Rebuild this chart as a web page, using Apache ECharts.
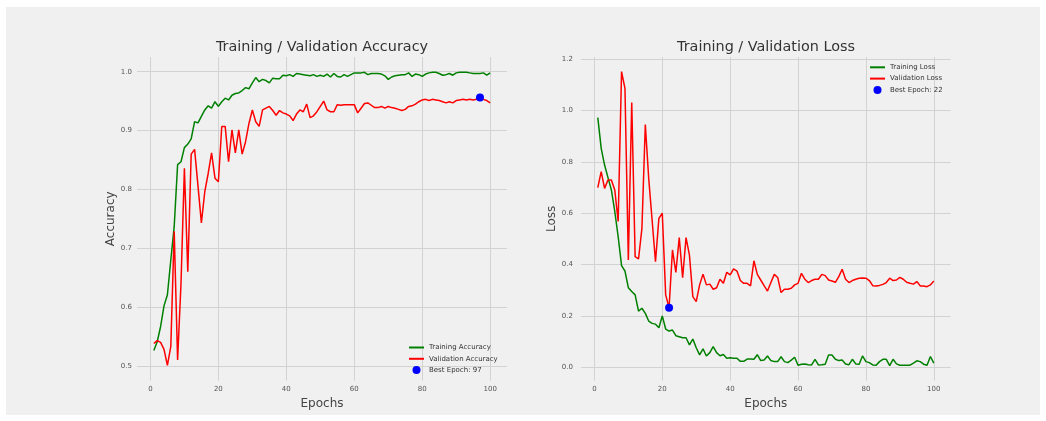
<!DOCTYPE html>
<html>
<head>
<meta charset="utf-8">
<title>Training / Validation</title>
<script src="https://cdn.jsdelivr.net/npm/echarts@6/dist/echarts.min.js"></script>
<style>
html, body { margin: 0; padding: 0; background: #ffffff; }
#main { width: 1046px; height: 421px; }
</style>
</head>
<body>
<div id="main"></div>
<script>
var trainAcc = [
  0.526, 0.541, 0.567, 0.602, 0.621, 0.680, 0.737, 0.842, 0.847, 0.871,
  0.877, 0.886, 0.915, 0.913, 0.924, 0.935, 0.942, 0.938, 0.949, 0.941,
  0.949, 0.955, 0.952, 0.960, 0.963, 0.964, 0.968, 0.973, 0.971, 0.981,
  0.990, 0.983, 0.987, 0.985, 0.981, 0.989, 0.988, 0.988, 0.994, 0.993,
  0.995, 0.992, 0.997, 0.996, 0.995, 0.994, 0.993, 0.995, 0.992, 0.994,
  0.992, 0.996, 0.991, 0.997, 0.992, 0.991, 0.995, 0.992, 0.995, 0.998,
  0.998, 0.998, 0.999, 0.995, 0.997, 0.997, 0.997, 0.996, 0.993, 0.987,
  0.991, 0.993, 0.994, 0.995, 0.995, 0.998, 0.992, 0.996, 0.995, 0.992,
  0.996, 0.998, 0.999, 0.999, 0.997, 0.994, 0.995, 0.997, 0.994, 0.998,
  0.999, 0.999, 0.999, 0.998, 0.997, 0.997, 0.997, 0.998, 0.994, 0.998
];
var valAcc = [
  0.538, 0.543, 0.540, 0.528, 0.501, 0.533, 0.729, 0.510, 0.640, 0.836,
  0.660, 0.860, 0.868, 0.806, 0.743, 0.796, 0.827, 0.862, 0.819, 0.813,
  0.907, 0.907, 0.847, 0.901, 0.862, 0.901, 0.860, 0.881, 0.912, 0.935,
  0.915, 0.907, 0.935, 0.938, 0.941, 0.934, 0.926, 0.934, 0.930, 0.928,
  0.925, 0.917, 0.928, 0.935, 0.932, 0.945, 0.922, 0.925, 0.932, 0.941,
  0.950, 0.935, 0.932, 0.932, 0.944, 0.943, 0.944, 0.944, 0.944, 0.944,
  0.930, 0.938, 0.946, 0.947, 0.943, 0.939, 0.939, 0.941, 0.938, 0.941,
  0.939, 0.938, 0.936, 0.934, 0.936, 0.941, 0.942, 0.945, 0.949, 0.952,
  0.953, 0.951, 0.953, 0.952, 0.951, 0.949, 0.947, 0.949, 0.947, 0.951,
  0.952, 0.953, 0.952, 0.953, 0.952, 0.953, 0.956, 0.953, 0.951, 0.947
];
var trainLoss = [
  0.973, 0.853, 0.788, 0.739, 0.691, 0.607, 0.509, 0.396, 0.375, 0.310,
  0.295, 0.282, 0.219, 0.230, 0.210, 0.180, 0.171, 0.168, 0.154, 0.200,
  0.149, 0.141, 0.145, 0.123, 0.119, 0.115, 0.115, 0.087, 0.110, 0.076,
  0.048, 0.072, 0.044, 0.057, 0.080, 0.057, 0.045, 0.050, 0.035, 0.037,
  0.035, 0.035, 0.023, 0.023, 0.032, 0.032, 0.031, 0.049, 0.026, 0.028,
  0.044, 0.026, 0.022, 0.022, 0.041, 0.022, 0.018, 0.028, 0.039, 0.008,
  0.012, 0.013, 0.010, 0.009, 0.031, 0.009, 0.010, 0.012, 0.048, 0.048,
  0.031, 0.026, 0.028, 0.013, 0.010, 0.031, 0.013, 0.012, 0.044, 0.022,
  0.018, 0.009, 0.008, 0.022, 0.031, 0.031, 0.006, 0.031, 0.013, 0.008,
  0.008, 0.008, 0.008, 0.016, 0.025, 0.022, 0.012, 0.008, 0.042, 0.016
];
var valLoss = [
  0.700, 0.762, 0.697, 0.730, 0.730, 0.691, 0.568, 1.152, 1.087, 0.418,
  1.032, 0.431, 0.422, 0.541, 0.946, 0.736, 0.574, 0.411, 0.580, 0.600,
  0.282, 0.232, 0.457, 0.370, 0.505, 0.349, 0.505, 0.437, 0.275, 0.256,
  0.321, 0.363, 0.321, 0.324, 0.304, 0.310, 0.343, 0.327, 0.370, 0.360,
  0.383, 0.375, 0.338, 0.327, 0.327, 0.317, 0.415, 0.362, 0.340, 0.318,
  0.297, 0.330, 0.362, 0.350, 0.291, 0.304, 0.304, 0.308, 0.321, 0.327,
  0.366, 0.343, 0.330, 0.338, 0.343, 0.343, 0.362, 0.357, 0.340, 0.336,
  0.331, 0.353, 0.382, 0.343, 0.330, 0.338, 0.343, 0.347, 0.348, 0.347,
  0.338, 0.318, 0.317, 0.319, 0.323, 0.330, 0.347, 0.338, 0.340, 0.350,
  0.343, 0.331, 0.327, 0.324, 0.334, 0.317, 0.317, 0.314, 0.321, 0.336
];
var bestAccEpoch = 97;
var bestLossEpoch = 22;
var epochTicks = [0, 20, 40, 60, 80, 100];
var accTicks = [0.5, 0.6, 0.7, 0.8, 0.9, 1.0];
var lossTicks = [0.0, 0.2, 0.4, 0.6, 0.8, 1.0, 1.2];

var FONT = 'DejaVu Sans';

function pairs(vals) {
  return vals.map(function (v, i) { return [i + 1, v]; });
}

function xAxisFor(gridIndex) {
  return {
    type: 'value', gridIndex: gridIndex, min: -3.95, max: 104.95,
    name: 'Epochs', nameLocation: 'middle', nameGap: 14,
    nameTextStyle: { fontFamily: FONT, fontSize: 12, color: '#444' },
    axisLine: { show: false },
    axisTick: { show: false, customValues: epochTicks },
    axisLabel: { customValues: epochTicks, fontFamily: FONT, fontSize: 7, color: '#555', margin: 5 },
    splitLine: { show: true, lineStyle: { color: '#d2d2d2', width: 1 } }
  };
}

function yAxisFor(gridIndex, name, min, max, ticks, gap, margin) {
  return {
    type: 'value', gridIndex: gridIndex, min: min, max: max,
    name: name, nameLocation: 'middle', nameGap: gap,
    nameTextStyle: { fontFamily: FONT, fontSize: 12, color: '#444' },
    axisLine: { show: false },
    axisTick: { show: false, customValues: ticks },
    axisLabel: {
      customValues: ticks, fontFamily: FONT, fontSize: 7, color: '#555', margin: margin,
      formatter: function (v) { return v.toFixed(1); }
    },
    splitLine: { show: true, lineStyle: { color: '#d2d2d2', width: 1 } }
  };
}

function lineSeries(name, vals, color, idx) {
  return {
    name: name, type: 'line', xAxisIndex: idx, yAxisIndex: idx,
    data: pairs(vals), symbol: 'none', animation: false,
    lineStyle: { color: color, width: 1.5 }, itemStyle: { color: color }
  };
}

// line entries: hide the marker, keep only the stroke
function legendFor(lineNames, bestName, left, top) {
  var items = lineNames.map(function (n) {
    return { name: n, itemStyle: { opacity: 0 } };
  });
  items.push({ name: bestName });
  return {
    data: items, orient: 'vertical', left: left, top: top, padding: 0,
    itemWidth: 15, itemHeight: 8, itemGap: 3.3,
    textStyle: { fontFamily: FONT, fontSize: 7, color: '#333', lineHeight: 8 }
  };
}

var accBestName = 'Best Epoch: ' + bestAccEpoch;
var lossBestName = 'Best Epoch: ' + bestLossEpoch;

var myChart = echarts.init(document.getElementById('main'));
var option = {
  backgroundColor: '#ffffff',
  animation: false,
  graphic: [{
    type: 'rect', z: -10, silent: true,
    shape: { x: 6, y: 7, width: 1034, height: 408 },
    style: { fill: '#f0f0f0' }
  }],
  title: [
    { text: 'Training / Validation Accuracy', left: 322, top: 40, textAlign: 'center', padding: 0,
      textStyle: { fontFamily: FONT, fontSize: 14.4, fontWeight: 'normal', color: '#333' } },
    { text: 'Training / Validation Loss', left: 766, top: 40, textAlign: 'center', padding: 0,
      textStyle: { fontFamily: FONT, fontSize: 14.4, fontWeight: 'normal', color: '#333' } }
  ],
  legend: [
    legendFor(['Training Accuracy', 'Validation Accuracy'], accBestName, 408, 343.5),
    legendFor(['Training Loss', 'Validation Loss'], lossBestName, 869, 63.3)
  ],
  grid: [
    { left: 137, top: 57, width: 370, height: 323.6 },
    { left: 581, top: 57, width: 369.6, height: 323.6 }
  ],
  xAxis: [xAxisFor(0), xAxisFor(1)],
  yAxis: [
    yAxisFor(0, 'Accuracy', 0.475, 1.025, accTicks, 19, 5),
    yAxisFor(1, 'Loss', -0.052, 1.209, lossTicks, 18.3, 8)
  ],
  series: [
    lineSeries('Training Accuracy', trainAcc, '#008000', 0),
    lineSeries('Validation Accuracy', valAcc, '#ff0000', 0),
    { name: accBestName, type: 'scatter', xAxisIndex: 0, yAxisIndex: 0, z: 5,
      data: [[bestAccEpoch, valAcc[bestAccEpoch - 1]]], symbolSize: 8,
      itemStyle: { color: '#0000ff', opacity: 1 } },
    lineSeries('Training Loss', trainLoss, '#008000', 1),
    lineSeries('Validation Loss', valLoss, '#ff0000', 1),
    { name: lossBestName, type: 'scatter', xAxisIndex: 1, yAxisIndex: 1, z: 5,
      data: [[bestLossEpoch, valLoss[bestLossEpoch - 1]]], symbolSize: 8,
      itemStyle: { color: '#0000ff', opacity: 1 } }
  ]
};
myChart.setOption(option);
window.addEventListener('resize', function () {
  myChart.resize();
});
</script>
</body>
</html>
